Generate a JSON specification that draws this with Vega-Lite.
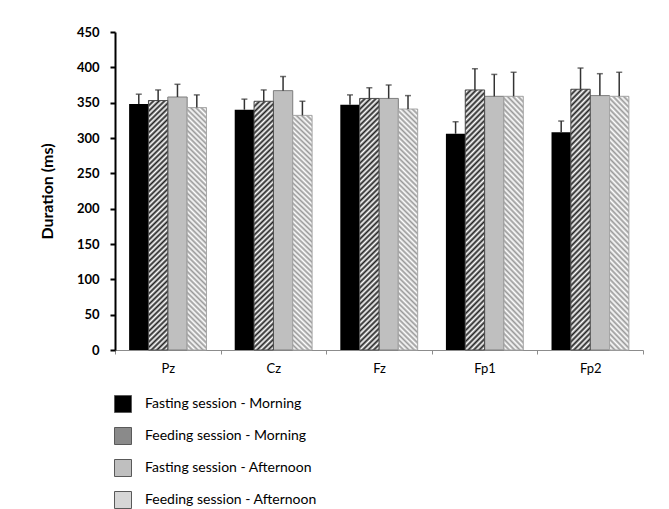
{
  "$schema": "https://vega.github.io/schema/vega-lite/v6.json",
  "autosize": {"type": "none"},
  "padding": {"left": 115, "top": 32, "right": 26, "bottom": 159},
  "width": 528,
  "height": 318,
  "background": "white",
  "data": {"values": [
    {"site": "Pz", "session": "Fasting session - Morning", "mean": 348, "upper": 362},
    {"site": "Pz", "session": "Feeding session - Morning", "mean": 353, "upper": 368},
    {"site": "Pz", "session": "Fasting session - Afternoon", "mean": 358, "upper": 376},
    {"site": "Pz", "session": "Feeding session - Afternoon", "mean": 343, "upper": 361},
    {"site": "Cz", "session": "Fasting session - Morning", "mean": 340, "upper": 355},
    {"site": "Cz", "session": "Feeding session - Morning", "mean": 352, "upper": 368},
    {"site": "Cz", "session": "Fasting session - Afternoon", "mean": 367, "upper": 387},
    {"site": "Cz", "session": "Feeding session - Afternoon", "mean": 332, "upper": 352},
    {"site": "Fz", "session": "Fasting session - Morning", "mean": 347, "upper": 361},
    {"site": "Fz", "session": "Feeding session - Morning", "mean": 356, "upper": 371},
    {"site": "Fz", "session": "Fasting session - Afternoon", "mean": 356, "upper": 375},
    {"site": "Fz", "session": "Feeding session - Afternoon", "mean": 341, "upper": 360},
    {"site": "Fp1", "session": "Fasting session - Morning", "mean": 306, "upper": 323},
    {"site": "Fp1", "session": "Feeding session - Morning", "mean": 368, "upper": 398},
    {"site": "Fp1", "session": "Fasting session - Afternoon", "mean": 359, "upper": 390},
    {"site": "Fp1", "session": "Feeding session - Afternoon", "mean": 359, "upper": 393},
    {"site": "Fp2", "session": "Fasting session - Morning", "mean": 308, "upper": 324},
    {"site": "Fp2", "session": "Feeding session - Morning", "mean": 369, "upper": 399},
    {"site": "Fp2", "session": "Fasting session - Afternoon", "mean": 360, "upper": 391},
    {"site": "Fp2", "session": "Feeding session - Afternoon", "mean": 359, "upper": 393}
  ]},
  "encoding": {
    "x": {"field": "site", "type": "nominal", "sort": ["Pz", "Cz", "Fz", "Fp1", "Fp2"], "title": null, "scale": {"paddingInner": 0, "paddingOuter": 0}},
    "xOffset": {"field": "session", "type": "nominal", "scale": {"domain": ["Fasting session - Morning", "Feeding session - Morning", "Fasting session - Afternoon", "Feeding session - Afternoon"], "paddingInner": 0, "paddingOuter": 0.73}},
    "y": {"field": "mean", "type": "quantitative", "title": "Duration (ms)", "scale": {"domain": [0, 450], "nice": false}}
  },
  "layer": [
    {
      "mark": {"type": "bar"},
      "encoding": {
        "fill": {
          "field": "session", "type": "nominal", "title": null,
          "scale": {"domain": ["Fasting session - Morning", "Feeding session - Morning", "Fasting session - Afternoon", "Feeding session - Afternoon"], "range": ["#000000", "#8a8a8a", "#bfbfbf", "#d6d6d6"]}
        }
      }
    },
    {
      "transform": [{"filter": "datum.session === 'Fasting session - Afternoon'"}],
      "mark": {"type": "bar", "strokeWidth": 1, "stroke": "#7f7f7f", "fill": "#bfbfbf"},
      "encoding": {}
    },
    {
      "transform": [{"filter": "datum.session === 'Feeding session - Morning'"}],
      "mark": {"type": "bar", "strokeWidth": 1, "stroke": "#4d4d4d", "fill": {"gradient": "linear", "x1": 0, "y1": 0, "x2": 0.081, "y2": 1.07, "stops": [
        {"offset":0,"color":"#222"},{"offset":0.01,"color":"#fff"},{"offset":0.02,"color":"#222"},{"offset":0.03,"color":"#fff"},{"offset":0.04,"color":"#222"},{"offset":0.05,"color":"#fff"},{"offset":0.06,"color":"#222"},{"offset":0.07,"color":"#fff"},{"offset":0.08,"color":"#222"},{"offset":0.09,"color":"#fff"},
        {"offset":0.1,"color":"#222"},{"offset":0.11,"color":"#fff"},{"offset":0.12,"color":"#222"},{"offset":0.13,"color":"#fff"},{"offset":0.14,"color":"#222"},{"offset":0.15,"color":"#fff"},{"offset":0.16,"color":"#222"},{"offset":0.17,"color":"#fff"},{"offset":0.18,"color":"#222"},{"offset":0.19,"color":"#fff"},
        {"offset":0.2,"color":"#222"},{"offset":0.21,"color":"#fff"},{"offset":0.22,"color":"#222"},{"offset":0.23,"color":"#fff"},{"offset":0.24,"color":"#222"},{"offset":0.25,"color":"#fff"},{"offset":0.26,"color":"#222"},{"offset":0.27,"color":"#fff"},{"offset":0.28,"color":"#222"},{"offset":0.29,"color":"#fff"},
        {"offset":0.3,"color":"#222"},{"offset":0.31,"color":"#fff"},{"offset":0.32,"color":"#222"},{"offset":0.33,"color":"#fff"},{"offset":0.34,"color":"#222"},{"offset":0.35,"color":"#fff"},{"offset":0.36,"color":"#222"},{"offset":0.37,"color":"#fff"},{"offset":0.38,"color":"#222"},{"offset":0.39,"color":"#fff"},
        {"offset":0.4,"color":"#222"},{"offset":0.41,"color":"#fff"},{"offset":0.42,"color":"#222"},{"offset":0.43,"color":"#fff"},{"offset":0.44,"color":"#222"},{"offset":0.45,"color":"#fff"},{"offset":0.46,"color":"#222"},{"offset":0.47,"color":"#fff"},{"offset":0.48,"color":"#222"},{"offset":0.49,"color":"#fff"},
        {"offset":0.5,"color":"#222"},{"offset":0.51,"color":"#fff"},{"offset":0.52,"color":"#222"},{"offset":0.53,"color":"#fff"},{"offset":0.54,"color":"#222"},{"offset":0.55,"color":"#fff"},{"offset":0.56,"color":"#222"},{"offset":0.57,"color":"#fff"},{"offset":0.58,"color":"#222"},{"offset":0.59,"color":"#fff"},
        {"offset":0.6,"color":"#222"},{"offset":0.61,"color":"#fff"},{"offset":0.62,"color":"#222"},{"offset":0.63,"color":"#fff"},{"offset":0.64,"color":"#222"},{"offset":0.65,"color":"#fff"},{"offset":0.66,"color":"#222"},{"offset":0.67,"color":"#fff"},{"offset":0.68,"color":"#222"},{"offset":0.69,"color":"#fff"},
        {"offset":0.7,"color":"#222"},{"offset":0.71,"color":"#fff"},{"offset":0.72,"color":"#222"},{"offset":0.73,"color":"#fff"},{"offset":0.74,"color":"#222"},{"offset":0.75,"color":"#fff"},{"offset":0.76,"color":"#222"},{"offset":0.77,"color":"#fff"},{"offset":0.78,"color":"#222"},{"offset":0.79,"color":"#fff"},
        {"offset":0.8,"color":"#222"},{"offset":0.81,"color":"#fff"},{"offset":0.82,"color":"#222"},{"offset":0.83,"color":"#fff"},{"offset":0.84,"color":"#222"},{"offset":0.85,"color":"#fff"},{"offset":0.86,"color":"#222"},{"offset":0.87,"color":"#fff"},{"offset":0.88,"color":"#222"},{"offset":0.89,"color":"#fff"},
        {"offset":0.9,"color":"#222"},{"offset":0.91,"color":"#fff"},{"offset":0.92,"color":"#222"},{"offset":0.93,"color":"#fff"},{"offset":0.94,"color":"#222"},{"offset":0.95,"color":"#fff"},{"offset":0.96,"color":"#222"},{"offset":0.97,"color":"#fff"},{"offset":0.98,"color":"#222"},{"offset":0.99,"color":"#fff"},
        {"offset":1,"color":"#222"}
      ]}},
      "encoding": {}
    },
    {
      "transform": [{"filter": "datum.session === 'Feeding session - Afternoon'"}],
      "mark": {"type": "bar", "strokeWidth": 1, "stroke": "#a6a6a6", "fill": {"gradient": "linear", "x1": 1, "y1": 0, "x2": 0.9155, "y2": 1.072, "stops": [
        {"offset":0,"color":"#999"},{"offset":0.01,"color":"#fff"},{"offset":0.02,"color":"#999"},{"offset":0.03,"color":"#fff"},{"offset":0.04,"color":"#999"},{"offset":0.05,"color":"#fff"},{"offset":0.06,"color":"#999"},{"offset":0.07,"color":"#fff"},{"offset":0.08,"color":"#999"},{"offset":0.09,"color":"#fff"},
        {"offset":0.1,"color":"#999"},{"offset":0.11,"color":"#fff"},{"offset":0.12,"color":"#999"},{"offset":0.13,"color":"#fff"},{"offset":0.14,"color":"#999"},{"offset":0.15,"color":"#fff"},{"offset":0.16,"color":"#999"},{"offset":0.17,"color":"#fff"},{"offset":0.18,"color":"#999"},{"offset":0.19,"color":"#fff"},
        {"offset":0.2,"color":"#999"},{"offset":0.21,"color":"#fff"},{"offset":0.22,"color":"#999"},{"offset":0.23,"color":"#fff"},{"offset":0.24,"color":"#999"},{"offset":0.25,"color":"#fff"},{"offset":0.26,"color":"#999"},{"offset":0.27,"color":"#fff"},{"offset":0.28,"color":"#999"},{"offset":0.29,"color":"#fff"},
        {"offset":0.3,"color":"#999"},{"offset":0.31,"color":"#fff"},{"offset":0.32,"color":"#999"},{"offset":0.33,"color":"#fff"},{"offset":0.34,"color":"#999"},{"offset":0.35,"color":"#fff"},{"offset":0.36,"color":"#999"},{"offset":0.37,"color":"#fff"},{"offset":0.38,"color":"#999"},{"offset":0.39,"color":"#fff"},
        {"offset":0.4,"color":"#999"},{"offset":0.41,"color":"#fff"},{"offset":0.42,"color":"#999"},{"offset":0.43,"color":"#fff"},{"offset":0.44,"color":"#999"},{"offset":0.45,"color":"#fff"},{"offset":0.46,"color":"#999"},{"offset":0.47,"color":"#fff"},{"offset":0.48,"color":"#999"},{"offset":0.49,"color":"#fff"},
        {"offset":0.5,"color":"#999"},{"offset":0.51,"color":"#fff"},{"offset":0.52,"color":"#999"},{"offset":0.53,"color":"#fff"},{"offset":0.54,"color":"#999"},{"offset":0.55,"color":"#fff"},{"offset":0.56,"color":"#999"},{"offset":0.57,"color":"#fff"},{"offset":0.58,"color":"#999"},{"offset":0.59,"color":"#fff"},
        {"offset":0.6,"color":"#999"},{"offset":0.61,"color":"#fff"},{"offset":0.62,"color":"#999"},{"offset":0.63,"color":"#fff"},{"offset":0.64,"color":"#999"},{"offset":0.65,"color":"#fff"},{"offset":0.66,"color":"#999"},{"offset":0.67,"color":"#fff"},{"offset":0.68,"color":"#999"},{"offset":0.69,"color":"#fff"},
        {"offset":0.7,"color":"#999"},{"offset":0.71,"color":"#fff"},{"offset":0.72,"color":"#999"},{"offset":0.73,"color":"#fff"},{"offset":0.74,"color":"#999"},{"offset":0.75,"color":"#fff"},{"offset":0.76,"color":"#999"},{"offset":0.77,"color":"#fff"},{"offset":0.78,"color":"#999"},{"offset":0.79,"color":"#fff"},
        {"offset":0.8,"color":"#999"},{"offset":0.81,"color":"#fff"},{"offset":0.82,"color":"#999"},{"offset":0.83,"color":"#fff"},{"offset":0.84,"color":"#999"},{"offset":0.85,"color":"#fff"},{"offset":0.86,"color":"#999"},{"offset":0.87,"color":"#fff"},{"offset":0.88,"color":"#999"},{"offset":0.89,"color":"#fff"},
        {"offset":0.9,"color":"#999"},{"offset":0.91,"color":"#fff"},{"offset":0.92,"color":"#999"},{"offset":0.93,"color":"#fff"},{"offset":0.94,"color":"#999"},{"offset":0.95,"color":"#fff"},{"offset":0.96,"color":"#999"},{"offset":0.97,"color":"#fff"},{"offset":0.98,"color":"#999"},{"offset":0.99,"color":"#fff"},
        {"offset":1,"color":"#999"}
      ]}},
      "encoding": {}
    },
    {
      "mark": {"type": "rule", "color": "#333333", "strokeWidth": 1.5},
      "encoding": {"y2": {"field": "upper"}}
    },
    {
      "mark": {"type": "tick", "orient": "horizontal", "size": 6, "thickness": 1.5, "color": "#333333"},
      "encoding": {"y": {"field": "upper", "type": "quantitative", "title": "Duration (ms)"}}
    }
  ],
  "config": {
    "view": {"stroke": null},
    "font": "Lato",
    "axisY": {"domainColor": "#000000", "domainWidth": 2, "tickColor": "#000000", "tickWidth": 2, "tickSize": 5, "tickCount": 9, "grid": false, "labelFont": "Lato", "labelFontWeight": "bold", "labelFontSize": 13, "labelColor": "#000000", "labelPadding": 11, "titleFont": "Lato", "titleFontSize": 16, "titleFontWeight": "bold", "titleColor": "#000000", "titlePadding": 21},
    "axisX": {"domainColor": "#8c8c8c", "domainWidth": 1, "tickColor": "#8c8c8c", "tickSize": 4, "tickBand": "extent", "labelAngle": 0, "grid": false, "labelFont": "Lato", "labelFontSize": 13, "labelColor": "#000000", "labelPadding": 8},
    "legend": {"orient": "none", "legendX": -1, "legendY": 363, "direction": "vertical", "symbolType": "square", "symbolSize": 289, "symbolStrokeWidth": 1, "symbolStrokeColor": "#595959", "rowPadding": 10, "labelOffset": 13, "labelLimit": 400, "labelFont": "Lato", "labelFontSize": 14, "labelColor": "#000000", "padding": 0}
  }
}
